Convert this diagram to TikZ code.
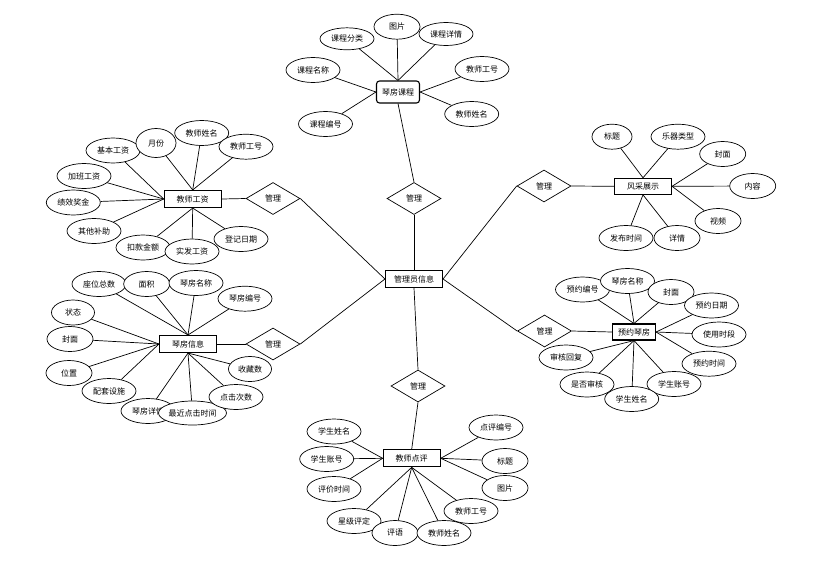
\documentclass[tikz,border=0pt]{standalone}
\usepackage{fontspec}
\setmainfont{Noto Sans CJK SC}
\usetikzlibrary{shapes.geometric}

\begin{document}
\begin{tikzpicture}[x=1pt,y=-1pt,line width=0.7pt,
  every node/.style={font=\fontsize{8}{9}\selectfont,inner sep=0pt},
  entity/.style={rectangle,draw,line width=1.1pt,fill=white,minimum width=57pt,minimum height=17pt},
  attr/.style={ellipse,draw,fill=white,minimum width=54pt,minimum height=25pt},
  sattr/.style={attr,minimum width=46pt},
  rel/.style={diamond,draw,fill=white,minimum width=54pt,minimum height=32pt}]
  \useasboundingbox (0,0) rectangle (816,560);
  % centre and relations
  \node[entity] (admin) at (414,279) {管理员信息};
  \node[rel] (m1) at (414,198.5) {管理};
  \node[rel] (m2) at (273,198.5) {管理};
  \node[rel] (m3) at (273,344) {管理};
  \node[rel] (m4) at (544,186) {管理};
  \node[rel] (m5) at (544.5,331) {管理};
  \node[rel] (m6) at (418,386) {管理};
  % entities
  \node[entity,rounded corners=3pt,minimum width=43pt,minimum height=22pt] (course) at (398,92) {琴房课程};
  \node[entity] (wage) at (192.7,199) {教师工资};
  \node[entity] (room) at (188,344) {琴房信息};
  \node[entity,minimum height=16pt] (show) at (643,186.3) {风采展示};
  \node[entity,minimum width=43pt,minimum height=16pt] (book) at (634,332) {预约琴房};
  \node[entity] (review) at (411.7,458.3) {教师点评};
  % course
  \node[attr,minimum height=22pt] (c1) at (347,38.8) {课程分类};
  \node[sattr] (c2) at (397,26.7) {图片};
  \node[attr,minimum height=23pt] (c3) at (446,34) {课程详情};
  \node[attr] (c4) at (313,70) {课程名称};
  \node[attr] (c5) at (325.5,124) {课程编号};
  \node[attr] (c6) at (482,69) {教师工号};
  \node[attr] (c7) at (471.7,114) {教师姓名};
  % wage
  \node[attr] (w1) at (113,150.5) {基本工资};
  \node[attr,minimum width=40pt,minimum height=29pt] (w2) at (156,143) {月份};
  \node[attr] (w3) at (201.7,133) {教师姓名};
  \node[attr] (w4) at (246,146.7) {教师工号};
  \node[attr] (w5) at (84,176) {加班工资};
  \node[attr] (w6) at (73.3,202.5) {绩效奖金};
  \node[attr] (w7) at (94,231) {其他补助};
  \node[attr] (w8) at (143,247.5) {扣款金额};
  \node[attr] (w9) at (192,251.5) {实发工资};
  \node[attr] (w10) at (241,239) {登记日期};
  % room
  \node[attr] (r1) at (99,284) {座位总数};
  \node[sattr] (r2) at (146.7,284) {面积};
  \node[attr] (r3) at (196,283) {琴房名称};
  \node[attr] (r4) at (245,298.7) {琴房编号};
  \node[attr,minimum width=43pt] (r5) at (73,312.5) {状态};
  \node[sattr] (r6) at (70,339) {封面};
  \node[sattr] (r7) at (69,373) {位置};
  \node[attr] (r8) at (109,391) {配套设施};
  \node[attr] (r9) at (148,411) {琴房详情};
  \node[attr,minimum width=68pt,minimum height=24pt] (r10) at (192.5,413) {最近点击时间};
  \node[attr] (r11) at (236,397) {点击次数};
  \node[attr,minimum width=43pt] (r12) at (250,369) {收藏数};
  % show
  \node[attr,minimum width=40pt] (s1) at (612,136.7) {标题};
  \node[attr] (s2) at (678,136.7) {乐器类型};
  \node[sattr] (s3) at (722.7,154) {封面};
  \node[sattr] (s4) at (752.7,186) {内容};
  \node[sattr] (s5) at (718,221) {视频};
  \node[attr] (s6) at (626,238) {发布时间};
  \node[sattr] (s7) at (677,238) {详情};
  % booking
  \node[attr] (b1) at (582.5,289.5) {预约编号};
  \node[attr] (b2) at (627.5,281) {琴房名称};
  \node[sattr] (b3) at (671,292) {封面};
  \node[attr] (b4) at (711.5,305.5) {预约日期};
  \node[attr] (b5) at (719,334.5) {使用时段};
  \node[attr] (b6) at (709,363.7) {预约时间};
  \node[attr] (b7) at (674,384) {学生账号};
  \node[attr] (b9) at (587,384.5) {是否审核};
  \node[attr] (b8) at (631.7,399) {学生姓名};
  \node[attr] (b10) at (566,357.5) {审核回复};
  % review
  \node[attr] (v1) at (334,431.5) {学生姓名};
  \node[attr] (v2) at (326.7,459) {学生账号};
  \node[attr] (v3) at (334,489) {评价时间};
  \node[attr] (v4) at (354,521) {星级评定};
  \node[sattr] (v5) at (395,533) {评语};
  \node[attr] (v6) at (444,533) {教师姓名};
  \node[attr] (v7) at (471,511) {教师工号};
  \node[attr] (v8) at (496,427.5) {点评编号};
  \node[sattr] (v9) at (505,461) {标题};
  \node[sattr] (v10) at (505,488) {图片};
  \path
    (admin.north) edge (m1.south)
    (m1.north) edge (course.south)
    (admin.west) edge (m2.east)
                 edge (m3.east)
    (m2.west) edge (wage.east)
    (m3.west) edge (room.east)
    (admin.east) edge (m4.west)
                 edge (m5.west)
    (m4.east) edge (show.west)
    (m5.east) edge (book.west)
    (admin.south) edge (m6.north)
    (m6.south) edge (review.north)
    (c1) edge (course.north)
    (c2) edge (course.north)
    (c3) edge (course.north)
    (c4) edge (course.west)
    (c5) edge (course.west)
    (c6) edge (course.east)
    (c7) edge (course.east)
    (w1) edge (wage.west)
    (w5) edge (wage.west)
    (w6) edge (wage.west)
    (w7) edge (wage.west)
    (w2) edge (wage.north)
    (w3) edge (wage.north)
    (w4) edge (wage.north)
    (w8) edge (wage.south)
    (w9) edge (wage.south)
    (w10) edge (wage.south)
    (r1) edge (room.north)
    (r2) edge (room.north)
    (r3) edge (room.north)
    (r4) edge (room.north)
    (r5) edge (room.west)
    (r6) edge (room.west)
    (r7) edge (room.west)
    (r8) edge (room.west)
    (r9) edge (room.south)
    (r10) edge (room.south)
    (r11) edge (room.south)
    (r12) edge (room.south)
    (s1) edge (show.north)
    (s2) edge (show.north)
    (s3) edge (show.east)
    (s4) edge (show.east)
    (s5) edge (show.east)
    (s6) edge (show.south)
    (s7) edge (show.south)
    (b1) edge (book.north)
    (b2) edge (book.north)
    (b3) edge (book.north)
    (b4) edge (book.east)
    (b5) edge (book.east)
    (b6) edge (book.east)
    (b7) edge (book.south)
    (b8) edge (book.south)
    (b9) edge (book.south)
    (b10) edge (book.south)
    (v1) edge (review.west)
    (v2) edge (review.west)
    (v3) edge (review.west)
    (v4) edge (review.south)
    (v5) edge (review.south)
    (v6) edge (review.south)
    (v7) edge (review.south)
    (v8) edge (review.east)
    (v9) edge (review.east)
    (v10) edge (review.east);
\end{tikzpicture}
\end{document}
